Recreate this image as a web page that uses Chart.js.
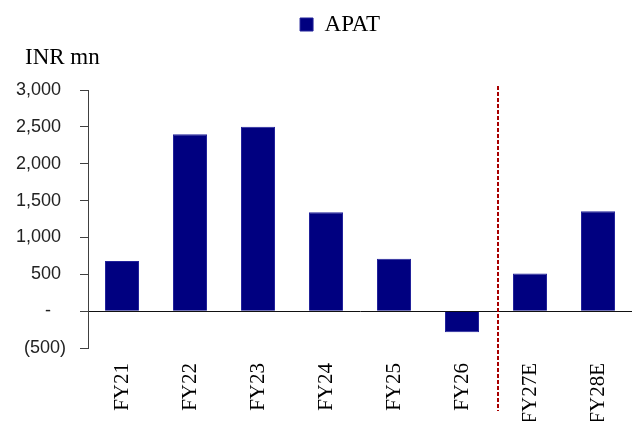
<!DOCTYPE html>
<html>
<head>
<meta charset="utf-8">
<script src="https://cdn.jsdelivr.net/npm/chart.js@4"></script>
<style>
  html, body { margin: 0; padding: 0; background: #fff; }
</style>
</head>
<body>
<canvas id="myChart" width="632" height="421"></canvas>
<script>
const categories = ["FY21", "FY22", "FY23", "FY24", "FY25", "FY26", "FY27E", "FY28E"];
const apat = [680, 2400, 2500, 1340, 710, -285, 510, 1355];
const yTicks = [-500, 0, 500, 1000, 1500, 2000, 2500, 3000];
const seriesName = "APAT";
const unitLabel = "INR mn";
const firstEstimate = "FY27E"; // dashed divider goes just before this one

// excel style accounting labels: 3,000  -  (500)
function fmt(v) {
  if (v === 0) return "-\u00a0\u00a0\u00a0";
  if (v < 0) return "(" + Math.abs(v).toLocaleString("en-US") + ")";
  return v.toLocaleString("en-US") + "\u00a0";
}

const divider = {
  id: "divider",
  afterDatasetsDraw(chart) {
    const x = chart.scales.x;
    const i = categories.indexOf(firstEstimate);
    const px = (x.getPixelForValue(i - 1) + x.getPixelForValue(i)) / 2 + 2;
    const ctx = chart.ctx;
    ctx.save();
    ctx.strokeStyle = "#a80000";
    ctx.lineWidth = 2;
    ctx.setLineDash([4, 2]);
    ctx.beginPath();
    ctx.moveTo(px, chart.chartArea.top - 4);
    ctx.lineTo(px, x.bottom - 10);
    ctx.stroke();
    ctx.restore();
  }
};

// legend and unit label sit a bit right of where chart.js centres them
const nudge = {
  id: "nudge",
  afterLayout(chart) {
    chart.legend.left += 16;
    chart.legend.right += 16;
    chart.titleBlock.left += 9;
    chart.titleBlock.right += 9;
  }
};

const serif = "'Liberation Serif', 'Times New Roman', serif";

new Chart(document.getElementById("myChart"), {
  type: "bar",
  data: {
    labels: categories,
    datasets: [
      {
        label: seriesName,
        data: apat,
        backgroundColor: "#000080",
        borderColor: "#22229a",
        borderWidth: 1,
        barPercentage: 0.5,
        categoryPercentage: 1,
      },
    ],
  },
  options: {
    responsive: false,
    animation: false,
    layout: { padding: { top: 3, left: 16, right: 0, bottom: 0 } },
    scales: {
      x: {
        afterFit: function (axis) {
          axis.height = 73;
          axis.paddingLeft = 0;
          axis.paddingRight = 0;
        },
        grid: { display: false, drawTicks: false },
        border: { display: false },
        ticks: {
          autoSkip: false,
          minRotation: 90,
          maxRotation: 90,
          padding: 15,
          color: "#000",
          font: { family: serif, size: 21 },
        },
      },
      y: {
        min: yTicks[0],
        max: yTicks[yTicks.length - 1],
        afterBuildTicks: function (axis) {
          axis.ticks = yTicks.map((v) => ({ value: v }));
        },
        afterFit: function (axis) {
          axis.width = 72;
        },
        border: { display: true, color: "#404040", width: 1 },
        grid: {
          color: (c) => (c.tick && c.tick.value === 0 ? "#111" : "rgba(0,0,0,0)"),
          tickColor: "#404040",
          tickLength: 8,
          lineWidth: 1,
        },
        ticks: {
          padding: 14,
          color: "#222",
          font: { family: "'Liberation Sans', Arial, sans-serif", size: 18 },
          callback: (v) => fmt(v),
        },
      },
    },
    plugins: {
      legend: {
        position: "top",
        weight: 1000,
        labels: {
          boxWidth: 13,
          boxHeight: 13,
          padding: 10,
          color: "#000",
          font: { family: serif, size: 23 },
        },
      },
      title: {
        display: true,
        text: unitLabel,
        align: "start",
        weight: 500,
        padding: { top: 0, bottom: 21 },
        color: "#000",
        font: { family: serif, size: 23, weight: "normal", lineHeight: 1 },
      },
      tooltip: { enabled: false },
    },
  },
  plugins: [divider, nudge],
});
</script>
</body>
</html>
